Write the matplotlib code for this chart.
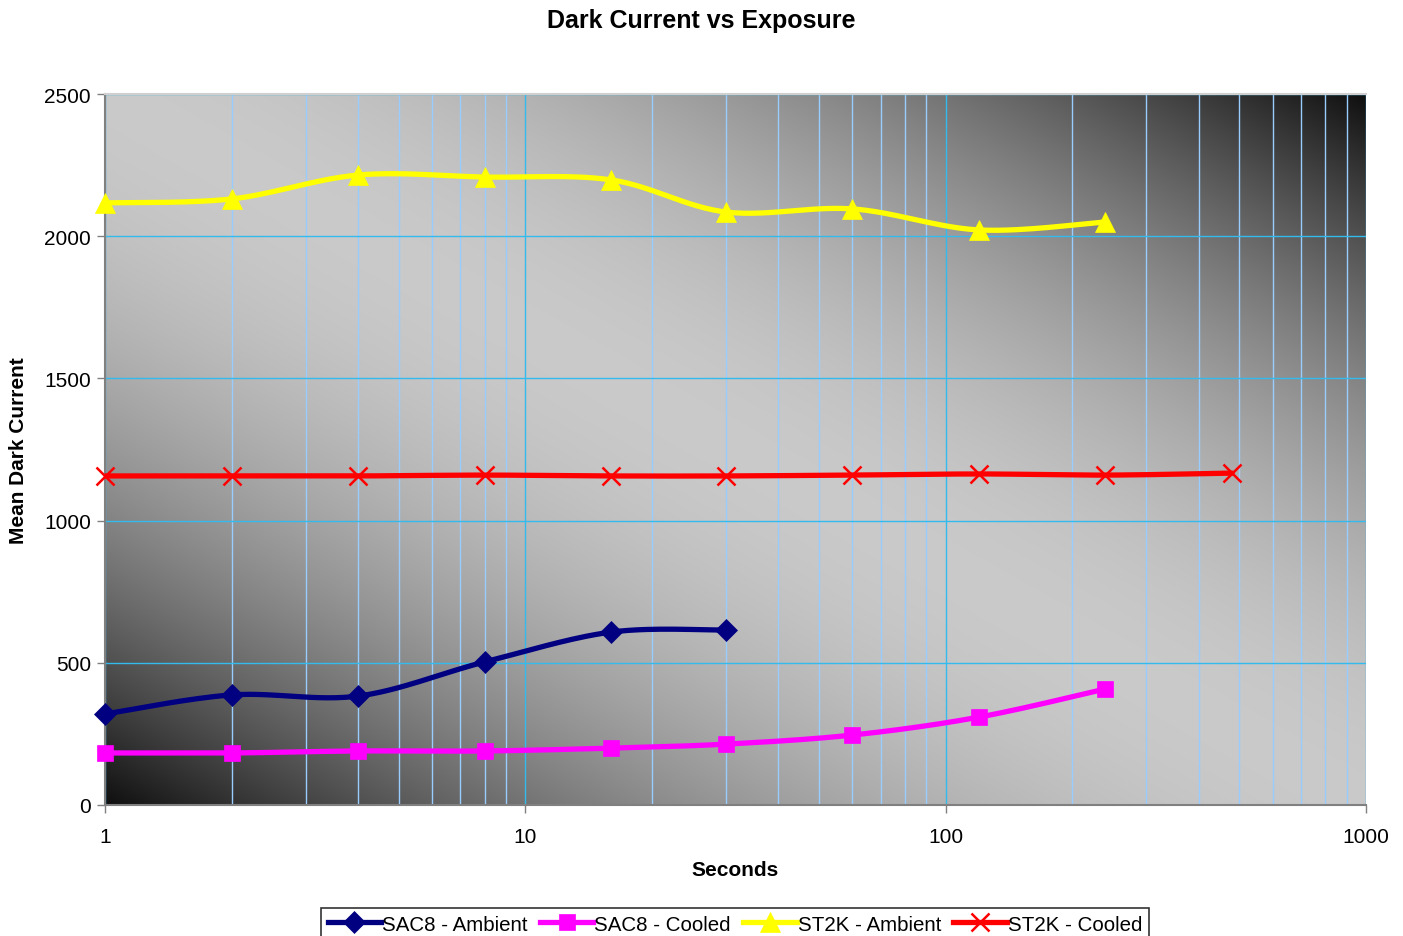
import numpy as np
import matplotlib
matplotlib.use('Agg')
import matplotlib.pyplot as plt

plt.rcParams['font.family'] = ['Liberation Sans', 'DejaVu Sans']

# exposure times (s)
seconds = [1, 2, 4, 8, 16, 30, 60, 120, 240, 480]

# mean dark current per camera / condition
sac8_ambient = [320, 387, 383, 503, 608, 615]
sac8_cooled = [183, 183, 190, 190, 200, 214, 246, 309, 408]
st2k_ambient = [2117, 2131, 2215, 2208, 2198, 2085, 2096, 2022, 2050]
st2k_cooled = [1157, 1157, 1157, 1160, 1157, 1157, 1160, 1164, 1160, 1167]

series = [
    ('SAC8 - Ambient', sac8_ambient, '#000080', 'D', 11),
    ('SAC8 - Cooled', sac8_cooled, '#FF00FF', 's', 12),
    ('ST2K - Ambient', st2k_ambient, '#FFFF00', '^', 15),
    ('ST2K - Cooled', st2k_cooled, '#FF0000', 'x', 13),
]


def smooth(xs, ys, n=30):
    # Excel-style smoothed line: Bezier segments with Catmull-Rom control points (log x)
    px = np.log10(np.asarray(xs, float))
    py = np.asarray(ys, float)
    outx, outy = [], []
    t = np.linspace(0, 1, n)
    for i in range(len(px) - 1):
        p0 = (px[i], py[i])
        p3 = (px[i + 1], py[i + 1])
        prev = (px[i - 1], py[i - 1]) if i > 0 else p0
        nxt = (px[i + 2], py[i + 2]) if i + 2 < len(px) else p3
        c1 = (p0[0] + (p3[0] - prev[0]) / 6, p0[1] + (p3[1] - prev[1]) / 6)
        c2 = (p3[0] - (nxt[0] - p0[0]) / 6, p3[1] - (nxt[1] - p0[1]) / 6)
        for k in range(2):
            b = ((1 - t) ** 3 * p0[k] + 3 * (1 - t) ** 2 * t * c1[k]
                 + 3 * (1 - t) * t ** 2 * c2[k] + t ** 3 * p3[k])
            (outx if k == 0 else outy).extend(b)
    return 10 ** np.array(outx), np.array(outy)


fig = plt.figure(figsize=(14.03, 9.37), dpi=100)
ax = fig.add_axes([105 / 1403, 1 - 806 / 937, 1261 / 1403, 711 / 937])

# diagonal dark-light-dark gradient (dark bottom-left / top-right corners)
u, v = np.meshgrid(np.linspace(0, 1, 500), np.linspace(0, 1, 300))
s = np.abs(u + v - 1)
g = 0.79 - (0.79 - 0.06) * s ** 1.9
img = np.dstack([g, g, g])
ax.imshow(img, extent=[0, 1, 0, 1], transform=ax.transAxes, origin='lower',
          aspect='auto', zorder=0, interpolation='bilinear')

ax.set_xscale('log')
ax.set_xlim(1, 1000)
ax.set_ylim(0, 2500)
ax.set_yticks([0, 500, 1000, 1500, 2000, 2500])
ax.set_xticks([1, 10, 100, 1000])
ax.set_xticklabels(['1', '10', '100', '1000'])
ax.tick_params(axis='x', which='minor', length=0)
ax.tick_params(axis='both', which='major', labelsize=15, length=6, color='#808080', width=1)
ax.tick_params(axis='x', pad=10)
ax.tick_params(axis='y', pad=4)

ax.grid(True, which='minor', axis='x', color='#99CCFF', linewidth=1)
ax.grid(True, which='major', axis='both', color='#33BBEE', linewidth=1)
ax.set_axisbelow(True)

ax.spines['right'].set_visible(False)
ax.spines['top'].set_color('#d0d0d0')
ax.spines['top'].set_linewidth(1.5)
for sp in ['left', 'bottom']:
    ax.spines[sp].set_color('#808080')
    ax.spines[sp].set_linewidth(1.5)

for label, vals, color, marker, ms in series:
    xs = seconds[:len(vals)]
    sx, sy = smooth(xs, vals)
    mew = 1.8 if marker == 'x' else 0.5
    ax.plot(sx, sy, color=color, linewidth=3.8, zorder=3, solid_capstyle='round')
    ax.plot(xs, vals, linestyle='none', marker=marker, color=color, markersize=ms,
            markeredgewidth=mew, markeredgecolor=color, zorder=4, clip_on=False)
    ax.plot([], [], color=color, linewidth=3.8, marker=marker, markersize=ms,
            markeredgewidth=mew, label=label)

fig.suptitle('Dark Current vs Exposure', y=1 - 9 / 937, fontsize=18, fontweight='bold')
ax.set_xlabel('Seconds', fontsize=15, fontweight='bold', labelpad=10)
ax.set_ylabel('Mean Dark Current', fontsize=15, fontweight='bold', labelpad=12)

leg = fig.legend(loc='upper center', bbox_to_anchor=(735 / 1403, 1 - 909 / 937), ncol=4,
                 fontsize=14.8, frameon=True, fancybox=False, edgecolor='black',
                 handlelength=2.6, handletextpad=0.05, columnspacing=0.6, borderpad=0.32,
                 borderaxespad=0)
leg.get_frame().set_linewidth(1.2)

fig.savefig('out.png', dpi=100)
